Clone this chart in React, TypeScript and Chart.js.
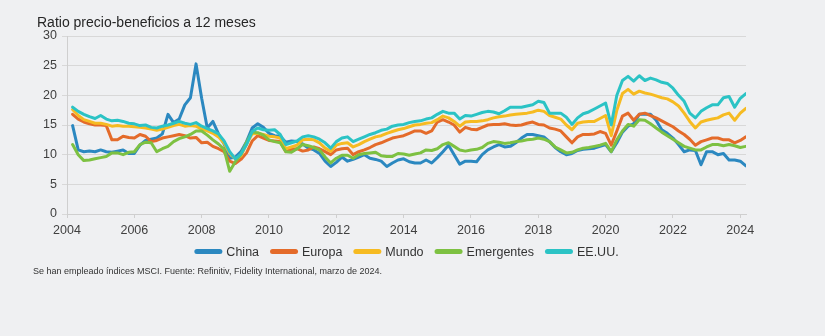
import React, { useEffect, useRef } from "react";
import { Chart, registerables } from "chart.js";

Chart.register(...registerables);

const titulo = "Ratio precio-beneficios a 12 meses";
const nota = "Se han empleado índices MSCI. Fuente: Refinitiv, Fidelity International, marzo de 2024.";

const nombres = ["China", "Europa", "Mundo", "Emergentes", "EE.UU."];
const colores = ["#2b88c0", "#e46b2a", "#f6bb22", "#7dc142", "#2bc3c5"];

const aniosEje = [2004, 2006, 2008, 2010, 2012, 2014, 2016, 2018, 2020, 2022, 2024];
const valoresEjeY = [0, 5, 10, 15, 20, 25, 30];

// bimonthly observations, Mar-2004 .. Mar-2024
const china = [
  14.9, 10.8, 10.5, 10.6, 10.5, 10.8,
  10.5, 10.4, 10.6, 10.8, 10.2, 10.2,
  11.6, 12.4, 12.6, 12.8, 13.5, 16.8,
  15.4, 16.0, 18.4, 19.6, 25.3, 19.5,
  14.5, 15.6, 13.5, 11.8, 9.4, 9.6,
  10.5, 12.2, 14.5, 15.2, 14.6, 13.6,
  13.2, 13.1, 12.1, 12.3, 12.2, 11.8,
  11.1, 10.8, 10.2, 8.9, 8.0, 8.7,
  9.6, 8.9, 9.2, 9.6, 10.0, 9.4,
  9.2, 8.9, 8.0, 8.6, 9.1, 9.3,
  8.8, 8.6, 8.6, 9.1, 8.6, 9.5,
  10.5, 11.6, 10.0, 8.4, 8.9, 8.9,
  8.8, 10.0, 10.8, 11.3, 11.7, 11.3,
  11.4, 12.0, 12.8, 13.4, 13.4, 13.2,
  13.0, 12.2, 11.2, 10.5, 10.0, 10.2,
  10.7, 10.9, 11.0, 11.1, 11.4, 11.7,
  10.5, 12.0, 13.8, 14.8, 15.2, 16.8,
  16.8, 16.8, 15.8, 14.2, 13.6, 12.8,
  11.7, 10.5, 10.8, 10.7, 8.3, 10.5,
  10.5, 10.0, 10.2, 9.1, 9.1, 8.9,
  8.1,
];

const europa = [
  16.8, 16.0, 15.5, 15.2, 15.0, 15.0,
  14.9, 12.5, 12.5, 13.1, 12.9, 12.8,
  13.4, 13.1, 12.2, 12.4, 12.8, 13.0,
  13.2, 13.4, 13.2, 12.8, 12.9, 12.0,
  12.1, 11.4, 11.0, 10.5, 8.9, 8.5,
  9.2, 10.3, 12.3, 13.2, 12.8, 12.4,
  12.3, 12.2, 10.5, 10.9, 11.0, 10.6,
  10.8, 11.3, 11.0, 10.5, 10.0, 10.8,
  11.0, 11.1, 10.0, 10.5, 10.8, 11.2,
  11.7, 12.0, 12.4, 12.8, 13.0, 13.2,
  13.6, 14.0, 14.0, 13.6, 14.0, 15.5,
  15.9, 15.5, 15.0, 13.8, 14.6, 14.3,
  14.2, 14.6, 15.0, 15.1, 15.1, 15.2,
  15.0, 14.9, 15.0, 15.3, 15.5, 15.1,
  15.0, 14.5, 14.3, 14.0, 13.0, 12.0,
  13.0, 13.4, 13.4, 13.5, 13.9, 13.6,
  11.6, 14.0, 16.5, 17.0, 15.8, 16.8,
  17.0, 16.6, 16.2, 15.7, 15.2, 14.7,
  14.0, 13.4, 12.6, 11.6, 12.2, 12.5,
  12.8, 12.8, 12.5, 12.5, 12.0, 12.4,
  13.0,
];

const mundo = [
  17.6, 16.6, 15.9, 15.6, 15.3, 15.3,
  15.1, 14.8, 14.9, 14.8, 14.8, 14.7,
  14.6, 14.5, 14.3, 14.1, 14.3, 14.6,
  14.9, 15.1, 14.8, 14.9, 14.8, 14.3,
  14.0, 13.6, 13.0, 11.9, 10.2, 9.3,
  9.8, 11.8, 13.5, 13.6, 13.4, 13.1,
  13.0, 12.8, 11.0, 11.3, 11.6, 12.5,
  12.6, 12.5, 12.0, 11.1, 10.6, 11.6,
  11.9, 12.0, 11.3, 11.7, 12.2, 12.6,
  13.0, 13.2, 13.6, 13.9, 14.2, 14.4,
  14.7, 15.0, 15.1, 15.3, 15.4, 15.9,
  16.5, 16.2, 15.6, 14.8, 15.5, 15.6,
  15.6, 15.7, 15.9, 16.2, 16.4, 16.5,
  16.7, 16.8, 16.9, 17.0, 17.2, 17.5,
  17.3, 16.6, 16.3, 16.0, 15.0, 14.2,
  15.3, 15.5, 15.6, 15.6, 16.1, 16.6,
  13.2, 17.5, 20.3, 21.0, 20.2, 20.7,
  20.4, 20.2, 19.9, 19.6, 19.4, 18.9,
  18.2, 17.0, 15.6, 14.5, 15.5, 15.8,
  16.0, 16.2, 16.7, 17.0, 15.8, 17.0,
  17.8,
];

const emergentes = [
  11.7, 10.0, 9.0, 9.1, 9.3, 9.5,
  9.7, 10.3, 10.3, 10.0, 10.4, 10.5,
  11.7, 12.1, 12.0, 10.5, 11.0, 11.4,
  12.2, 12.7, 13.0, 13.4, 14.0, 14.0,
  13.3, 12.5, 11.8, 10.9, 7.2, 8.8,
  10.0, 12.1, 13.8, 13.7, 13.3, 12.5,
  12.2, 12.0, 10.5, 10.4, 11.0, 11.7,
  11.5, 11.2, 10.8, 9.6, 8.6, 9.4,
  9.9, 9.9, 9.4, 10.0, 10.2, 10.3,
  10.4, 9.8, 9.7, 9.7, 10.2, 10.1,
  9.9, 10.1, 10.3, 10.8, 10.7, 11.0,
  11.7, 12.0, 11.4, 10.8, 10.6, 10.8,
  10.9, 11.2, 11.9, 12.2, 12.1, 11.9,
  12.0, 12.2, 12.3, 12.5, 12.6, 12.8,
  12.6, 12.2, 11.3, 10.8, 10.3, 10.4,
  10.8, 11.1, 11.2, 11.4, 11.6, 11.9,
  10.5, 12.5, 14.0, 15.1, 14.8, 15.9,
  15.8, 15.2, 14.5, 13.8, 13.2, 12.6,
  12.0, 11.4, 11.1, 10.8, 10.8, 11.3,
  11.7, 11.7, 11.5, 11.7, 11.5, 11.2,
  11.4,
];

const eeuu = [
  18.0, 17.3, 16.8, 16.4, 16.1, 16.6,
  16.0, 15.7, 15.8, 15.6, 15.3, 15.2,
  14.9, 15.0, 14.6, 14.5, 14.8, 15.0,
  15.3, 15.6, 15.3, 15.1, 15.4, 14.8,
  14.4, 14.0, 13.5, 12.3, 10.5, 9.3,
  10.1, 11.7, 13.9, 14.5, 14.2, 14.1,
  14.2, 13.4, 11.7, 12.0, 12.3, 13.0,
  13.2, 13.0, 12.6, 12.0, 11.1, 12.2,
  12.8, 13.0, 12.2, 12.6, 13.0, 13.4,
  13.7, 14.1, 14.3, 14.8, 15.0, 15.1,
  15.4, 15.6, 15.7, 16.0, 16.2, 16.8,
  17.3, 17.0, 17.0, 16.0, 16.6, 16.5,
  16.8, 17.1, 17.3, 17.2, 16.9, 17.4,
  18.0, 18.0, 18.0, 18.2, 18.4, 19.0,
  18.8, 17.0, 17.0, 17.0, 16.3, 15.1,
  16.2, 16.9, 17.2, 17.7, 18.2, 18.7,
  15.0, 20.0, 22.5, 23.2, 22.4, 23.3,
  22.5, 22.9, 22.6, 22.2, 22.0, 21.2,
  20.0, 19.0, 17.0, 16.2, 17.3, 17.9,
  18.4, 18.4, 19.6, 19.8, 18.0, 19.5,
  20.3,
];

const series = [china, europa, mundo, emergentes, eeuu];
const fechas = china.map((_, i) => 2004 + (i + 1) / 6);

const FONT = 'Arial, "Liberation Sans", sans-serif';
const FONDO = "#eff0f2";

const textosPlugin = {
  id: "textos",
  afterDraw(chart: any) {
    const ctx = chart.ctx;
    const area = chart.chartArea;
    ctx.save();
    // title
    ctx.fillStyle = "#262626";
    ctx.font = `14px ${FONT}`;
    ctx.textAlign = "left";
    ctx.textBaseline = "alphabetic";
    ctx.fillText(titulo, 37, 27);
    // legend
    ctx.font = `12.5px ${FONT}`;
    const sw = 28;
    const gap = 4;
    const sep = 11;
    const anchos = nombres.map((n) => sw + gap + ctx.measureText(n).width);
    const total = anchos.reduce((a, b) => a + b, 0) + sep * (nombres.length - 1);
    let x = (area.left + area.right) / 2 - total / 2;
    const yc = 251.5;
    nombres.forEach((n, i) => {
      ctx.strokeStyle = colores[i];
      ctx.lineWidth = 5;
      ctx.lineCap = "round";
      ctx.beginPath();
      ctx.moveTo(x + 2.5, yc);
      ctx.lineTo(x + sw - 2.5, yc);
      ctx.stroke();
      ctx.fillStyle = "#333333";
      ctx.fillText(n, x + sw + gap, yc + 4.5);
      x += anchos[i] + sep;
    });
    // footnote
    ctx.fillStyle = "#333333";
    ctx.font = `9px ${FONT}`;
    ctx.fillText(nota, 33, 273.5);
    ctx.restore();
  },
};

export default function App() {
  const ref = useRef<HTMLCanvasElement | null>(null);

  useEffect(() => {
    document.body.style.margin = "0";
    document.body.style.background = FONDO;
    const canvas = ref.current;
    if (!canvas) return;
    const chart = new Chart(canvas, {
      type: "line",
      data: {
        datasets: series.map((s, i) => ({
          label: nombres[i],
          data: s.map((v, j) => ({ x: fechas[j], y: v })),
          borderColor: colores[i],
          backgroundColor: colores[i],
          borderWidth: 3,
          pointRadius: 0,
          tension: 0,
          fill: false,
          borderJoinStyle: "round" as const,
          borderCapStyle: "round" as const,
          order: nombres.length - 1 - i,
        })),
      },
      options: {
        animation: false,
        responsive: false,
        maintainAspectRatio: false,
        layout: { padding: { left: 0, top: 36, right: 79, bottom: 92 } },
        plugins: {
          legend: { display: false },
          title: { display: false },
          tooltip: { enabled: false },
        },
        scales: {
          x: {
            type: "linear",
            min: 2004,
            max: 2024.17,
            afterFit: (s: any) => {
              s.height = 30;
            },
            afterBuildTicks: (s: any) => {
              s.ticks = aniosEje.map((v) => ({ value: v }));
            },
            grid: {
              drawOnChartArea: false,
              drawTicks: true,
              tickLength: 4,
              color: "#cfcfcf",
            },
            border: { display: true, color: "#cfcfcf", width: 1 },
            ticks: {
              autoSkip: false,
              maxRotation: 0,
              padding: 5,
              color: "#404040",
              font: { family: FONT, size: 12.5 },
              callback: (v: any) => String(v),
            },
          },
          y: {
            type: "linear",
            min: 0,
            max: 30,
            afterFit: (s: any) => {
              s.width = 67;
            },
            afterBuildTicks: (s: any) => {
              s.ticks = valoresEjeY.map((v) => ({ value: v }));
            },
            grid: {
              drawOnChartArea: true,
              drawTicks: true,
              tickLength: 5,
              color: "#d8d8d8",
            },
            border: { display: true, color: "#cfcfcf", width: 1 },
            ticks: {
              padding: 5,
              color: "#404040",
              font: { family: FONT, size: 12.5 },
              callback: (v: any) => String(v),
            },
          },
        },
      },
      plugins: [textosPlugin],
    });
    return () => chart.destroy();
  }, []);

  return (
    <div
      style={{
        position: "fixed",
        left: 0,
        top: 0,
        width: 825,
        height: 336,
        background: FONDO,
      }}
    >
      <canvas ref={ref} width={825} height={336} style={{ width: 825, height: 336, display: "block" }} />
    </div>
  );
}
